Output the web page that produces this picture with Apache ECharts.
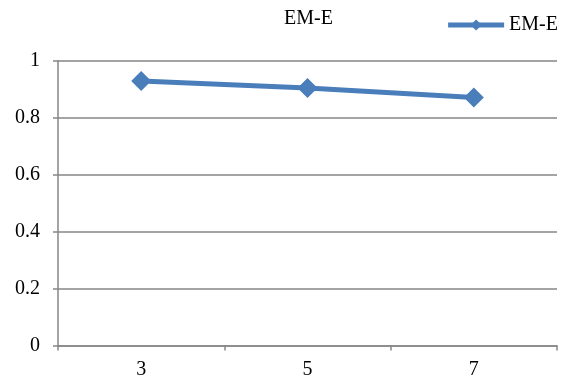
<!DOCTYPE html>
<html>
<head>
<meta charset="utf-8">
<script src="https://cdn.jsdelivr.net/npm/echarts@6/dist/echarts.min.js"></script>
<style>
  html, body { margin: 0; padding: 0; background: #fff; }
  #chart { width: 568px; height: 381px; }
</style>
</head>
<body>
<div id="chart"></div>
<script>
// Categories along the x axis
const categories = ['3', '5', '7'];
// EM-E series values
const emE = [0.930, 0.905, 0.872];
// Y axis range and step
const yMin = 0;
const yMax = 1;
const yStep = 0.2;

const font = '"Liberation Serif", "Times New Roman", serif';
const blue = '#4a7ebb';
const gray = '#868686';

const chart = echarts.init(document.getElementById('chart'), null, { renderer: 'canvas' });
chart.setOption({
  animation: false,
  backgroundColor: '#ffffff',
  title: {
    text: 'EM-E',
    left: 284,
    top: 9,
    padding: 0,
    textStyle: { fontFamily: font, fontSize: 20, fontWeight: 'normal', color: '#000' }
  },
  legend: {
    data: ['EM-E'],
    right: 5,
    top: 10,
    itemWidth: 56,
    itemHeight: 14,
    lineStyle: { width: 5 },
    textStyle: { fontFamily: font, fontSize: 20, color: '#000' }
  },
  grid: { left: 58, right: 11, top: 61, bottom: 35.5 },
  xAxis: {
    type: 'category',
    data: categories,
    boundaryGap: true,
    axisLine: { lineStyle: { color: gray, width: 1.5 } },
    axisTick: { show: true, length: 5, alignWithLabel: false, lineStyle: { color: gray, width: 1.5 } },
    axisLabel: { fontFamily: font, fontSize: 20, color: '#000', margin: 14 }
  },
  yAxis: {
    type: 'value',
    min: yMin,
    max: yMax,
    interval: yStep,
    axisLine: { show: true, lineStyle: { color: gray, width: 1.5 } },
    axisTick: { show: true, length: 5, lineStyle: { color: gray, width: 1.5 } },
    splitLine: { show: true, lineStyle: { color: gray, width: 1.5 } },
    axisLabel: { fontFamily: font, fontSize: 20, color: '#000', margin: 18 }
  },
  series: [{
    name: 'EM-E',
    type: 'line',
    data: emE,
    symbol: 'diamond',
    symbolSize: 20,
    showAllSymbol: true,
    lineStyle: { color: blue, width: 5 },
    itemStyle: { color: blue }
  }]
});
</script>
</body>
</html>
